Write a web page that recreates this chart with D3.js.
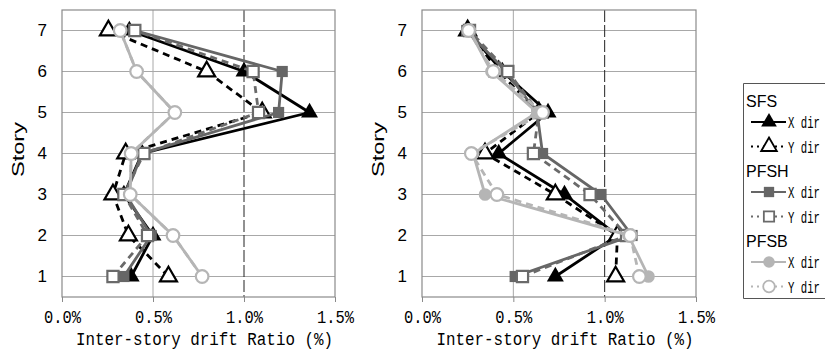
<!DOCTYPE html>
<html>
<head>
<meta charset="utf-8">
<script src="https://cdn.jsdelivr.net/npm/d3@7"></script>
<style>
  body { margin: 0; background: #fff; }
</style>
</head>
<body>
<script>
// Stories (y axis) and drift ticks (x axis)
const stories = [1, 2, 3, 4, 5, 6, 7];
const xTicks = [0, 0.5, 1.0, 1.5];
const xTickLabels = ["0.0%", "0.5%", "1.0%", "1.5%"];
const groups = ["SFS", "PFSH", "PFSB"];

// Left panel, values per story 1..7 (%)
const leftSfsX  = [0.38, 0.50, 0.34, 0.44, 1.36, 1.00, 0.37];
const leftSfsY  = [0.585, 0.365, 0.28, 0.35, 1.10, 0.795, 0.255];
const leftPfshX = [0.34, 0.49, 0.35, 0.44, 1.19, 1.21, 0.40];
const leftPfshY = [0.28, 0.47, 0.34, 0.45, 1.08, 1.05, 0.40];
const leftPfsbX = [0.77, 0.61, 0.375, 0.38, 0.62, 0.41, 0.32];
const leftPfsbY = [0.77, 0.61, 0.375, 0.38, 0.62, 0.41, 0.32];

// Right panel
const rightSfsX  = [0.73, 1.07, 0.78, 0.42, 0.69, 0.44, 0.25];
const rightSfsY  = [1.06, 1.07, 0.73, 0.345, 0.64, 0.42, 0.25];
const rightPfshX = [0.51, 1.15, 0.98, 0.66, 0.63, 0.46, 0.245];
const rightPfshY = [0.55, 1.12, 0.92, 0.61, 0.64, 0.47, 0.26];
const rightPfsbX = [1.24, 1.13, 0.345, 0.28, 0.63, 0.38, 0.26];
const rightPfsbY = [1.19, 1.14, 0.41, 0.27, 0.66, 0.39, 0.255];

// series styles
const styles = [
  {name: "SFS X",  color: "#000",    shape: d3.symbolTriangle, open: false, dash: null},
  {name: "SFS Y",  color: "#000",    shape: d3.symbolTriangle, open: true,  dash: "7,5"},
  {name: "PFSH X", color: "#666",    shape: d3.symbolSquare,   open: false, dash: null},
  {name: "PFSH Y", color: "#6a6a6a", shape: d3.symbolSquare,   open: true,  dash: "7,5"},
  {name: "PFSB X", color: "#b5b5b5", shape: d3.symbolCircle,   open: false, dash: null},
  {name: "PFSB Y", color: "#b5b5b5", shape: d3.symbolCircle,   open: true,  dash: "7,5"}
];
const symSize = {[d3.symbolTriangle]: 75, [d3.symbolSquare]: 125, [d3.symbolCircle]: 125};

const svg = d3.select("body").append("svg")
  .attr("width", 825)
  .attr("height", 350);

const monoFont = "'Liberation Mono', 'DejaVu Sans Mono', monospace";
const narrowFont = "'Liberation Sans Narrow', 'Liberation Sans', Arial, sans-serif";

function drawPanel(left, right, seriesList) {
  const top = 10, bottom = 297;
  const x = d3.scaleLinear().domain([0, 1.5]).range([left, right]);
  const y = d3.scaleLinear().domain([0.5, 7.5]).range([bottom, top]);
  const g = svg.append("g");

  // grid
  g.append("g").selectAll("line")
    .data(stories)
    .join("line")
    .attr("x1", left).attr("x2", right)
    .attr("y1", d => y(d)).attr("y2", d => y(d))
    .attr("stroke", "#a8a8a8").attr("stroke-width", 1);
  g.append("line")
    .attr("x1", x(0.5)).attr("x2", x(0.5))
    .attr("y1", top).attr("y2", bottom)
    .attr("stroke", "#a8a8a8").attr("stroke-width", 1);
  g.append("line")
    .attr("x1", x(1.0)).attr("x2", x(1.0))
    .attr("y1", top).attr("y2", bottom)
    .attr("stroke", "#222").attr("stroke-width", 1)
    .attr("stroke-dasharray", "12,3");

  // frame
  g.append("rect")
    .attr("x", left).attr("y", top)
    .attr("width", right - left).attr("height", bottom - top)
    .attr("fill", "none").attr("stroke", "#8a8a8a").attr("stroke-width", 1.2);

  // x axis
  const xAxis = g.append("g")
    .attr("transform", `translate(0,${bottom})`)
    .call(d3.axisBottom(x).tickValues(xTicks)
      .tickFormat((d, i) => xTickLabels[i]).tickSize(5).tickPadding(8));
  xAxis.select(".domain").remove();
  xAxis.selectAll("line").attr("stroke", "#8a8a8a");
  xAxis.selectAll("text")
    .attr("fill", "#000")
    .style("font-family", monoFont)
    .style("font-size", "18px")
    .attr("textLength", 37)
    .attr("lengthAdjust", "spacingAndGlyphs");

  // y axis
  const yAxis = g.append("g")
    .attr("transform", `translate(${left},0)`)
    .call(d3.axisLeft(y).tickValues(stories).tickFormat(d3.format("d"))
      .tickSize(0).tickPadding(15));
  yAxis.select(".domain").remove();
  yAxis.selectAll("text")
    .attr("fill", "#000")
    .style("font-family", narrowFont)
    .style("font-size", "17px");

  // axis titles
  g.append("text")
    .attr("x", (left + right) / 2 + 6)
    .attr("y", 345)
    .attr("text-anchor", "middle")
    .attr("textLength", 257)
    .attr("lengthAdjust", "spacingAndGlyphs")
    .style("font-family", monoFont)
    .style("font-size", "18px")
    .text("Inter-story drift Ratio (%)");
  g.append("text")
    .attr("transform", `translate(${left - 38},${(top + bottom) / 2 - 4}) rotate(-90)`)
    .attr("text-anchor", "middle")
    .attr("textLength", 55)
    .attr("lengthAdjust", "spacingAndGlyphs")
    .style("font-family", narrowFont)
    .style("font-size", "17px")
    .text("Story");

  // series
  const line = d3.line()
    .x(d => x(d.v))
    .y(d => y(d.s));

  seriesList.forEach((vals, i) => {
    const st = styles[i];
    const pts = vals.map((v, k) => ({v: v, s: stories[k]}));
    const sg = g.append("g");
    sg.append("path")
      .datum(pts)
      .attr("d", line)
      .attr("fill", "none")
      .attr("stroke", st.color)
      .attr("stroke-width", 2.8)
      .attr("stroke-dasharray", st.dash);
    sg.selectAll("path.mk")
      .data(pts)
      .join("path")
      .attr("class", "mk")
      .attr("transform", d => `translate(${x(d.v)},${y(d.s)})`)
      .attr("d", d3.symbol(st.shape, symSize[st.shape]))
      .attr("fill", st.open ? "#fff" : st.color)
      .attr("stroke", st.color)
      .attr("stroke-width", st.open ? 2.2 : 0);
  });
}

drawPanel(62, 335, [leftSfsX, leftSfsY, leftPfshX, leftPfshY, leftPfsbX, leftPfsbY]);
drawPanel(422, 696, [rightSfsX, rightSfsY, rightPfshX, rightPfshY, rightPfsbX, rightPfsbY]);

// legend (box runs off the right edge, as in the original)
const legend = svg.append("g");
legend.append("path")
  .attr("d", "M825,83.5H743.5V298.5H825")
  .attr("fill", "#fff").attr("stroke", "#555").attr("stroke-width", 1);

groups.forEach((name, gi) => {
  const base = 83 + gi * 70;
  legend.append("text")
    .attr("x", 746).attr("y", base + 24)
    .style("font-family", narrowFont)
    .style("font-size", "16px")
    .text(name);
  ["X dir", "Y dir"].forEach((lab, j) => {
    const st = styles[gi * 2 + j];
    const cy = base + 39 + j * 24.5;
    legend.append("line")
      .attr("x1", 751).attr("x2", 786)
      .attr("y1", cy).attr("y2", cy)
      .attr("stroke", st.color).attr("stroke-width", 2.2)
      .attr("stroke-dasharray", st.dash ? "2,4" : null);
    legend.append("path")
      .attr("transform", `translate(769,${cy})`)
      .attr("d", d3.symbol(st.shape, symSize[st.shape] * 0.85))
      .attr("fill", st.open ? "#fff" : st.color)
      .attr("stroke", st.color)
      .attr("stroke-width", st.open ? 1.8 : 0);
    legend.append("text")
      .attr("x", 788).attr("y", cy + 6)
      .attr("textLength", 32)
      .attr("lengthAdjust", "spacingAndGlyphs")
      .style("font-family", monoFont)
      .style("font-size", "17px")
      .text(lab);
  });
});
</script>
</body>
</html>
